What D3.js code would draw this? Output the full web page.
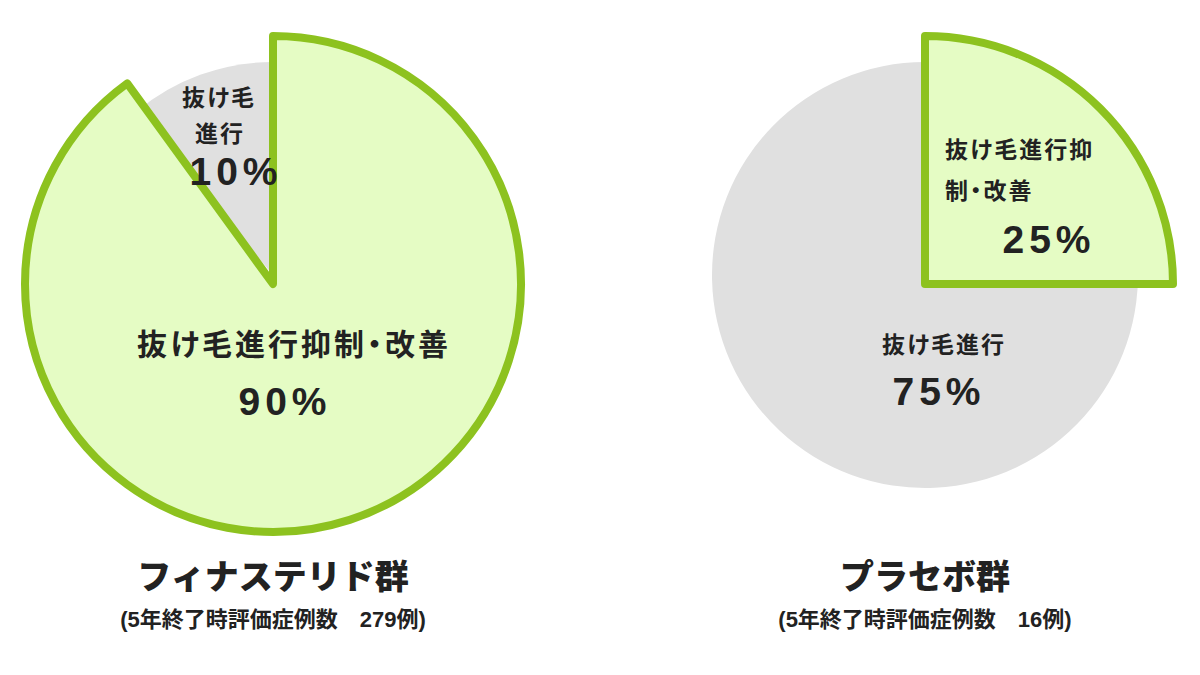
<!DOCTYPE html>
<html>
<head>
<meta charset="utf-8">
<script src="https://cdn.jsdelivr.net/npm/d3@7"></script>
<style>
    body { margin: 0; background: #fff; }
    text { font-family: "Liberation Sans", "Noto Sans CJK JP", sans-serif; font-weight: 700; fill: #222; }
    .title { font-family: "Noto Sans CJK JP", sans-serif; font-weight: 900; font-size: 34px; }
    .sub { font-size: 22px; }
    .lbl { font-size: 23px; letter-spacing: 2px; font-feature-settings: "palt"; }
    .lblBig { font-size: 30px; letter-spacing: 3px; font-feature-settings: "palt"; }
    .pct { font-size: 39px; letter-spacing: 5px; }
</style>
</head>
<body>
<div id="chart"></div>
<script>
// data
const groups = ["フィナステリド群", "プラセボ群"];
const subtitles = ["(5年終了時評価症例数　279例)", "(5年終了時評価症例数　16例)"];
const categories = ["抜け毛進行抑制・改善", "抜け毛進行"];
const improved = [90, 25];
const progressed = [10, 75];

const width = 1200;
const height = 675;

const svg = d3.select("#chart")
    .append("svg")
    .attr("width", width)
    .attr("height", height);

// pie centres
const xScale = d3.scalePoint()
    .domain(groups)
    .range([273, 925]);
const cy = 284;

const colorFill = d3.scaleOrdinal().domain(categories).range(["#e5fcc4", "#e0e0e0"]);

const pie = d3.pie().sort(null).value(d => d.value);
const greenArc = d3.arc().innerRadius(0).outerRadius(248);
const greyArc = d3.arc().innerRadius(0).outerRadius(213);
const greyShift = -9;
const overlap = 4 * Math.PI / 180;

// label layout per group (offsets from centre)
const labelLayout = [
    [
        { text: "抜け毛進行抑制・改善", cls: "lblBig", anchor: "middle", dx: 21, dy: 71 },
        { text: improved[0] + "%", cls: "pct", anchor: "middle", dx: 12, dy: 131 },
        { text: "抜け毛", cls: "lbl", anchor: "middle", dx: -54, dy: -178 },
        { text: "進行", cls: "lbl", anchor: "middle", dx: -53, dy: -142 },
        { text: progressed[0] + "%", cls: "pct", anchor: "middle", dx: -37, dy: -99 }
    ],
    [
        { text: "抜け毛進行抑", cls: "lbl", anchor: "start", dx: 20, dy: -126 },
        { text: "制・改善", cls: "lbl", anchor: "start", dx: 20, dy: -85 },
        { text: improved[1] + "%", cls: "pct", anchor: "middle", dx: 124, dy: -31 },
        { text: "抜け毛進行", cls: "lbl", anchor: "middle", dx: 19, dy: 69 },
        { text: progressed[1] + "%", cls: "pct", anchor: "middle", dx: 14, dy: 121 }
    ]
];

groups.forEach((g, i) => {
    const slices = pie([
        { key: categories[0], value: improved[i] },
        { key: categories[1], value: progressed[i] }
    ]);

    const chart = svg.append("g")
        .attr("transform", `translate(${xScale(g)},${cy})`);

    // grey slice (the rest), drawn first and a bit larger in angle so it tucks under the green one
    const rest = slices[1];
    chart.append("path")
        .attr("transform", `translate(0,${greyShift})`)
        .attr("d", greyArc({ startAngle: rest.startAngle - overlap, endAngle: rest.endAngle }))
        .attr("fill", colorFill(rest.data.key));

    // highlighted slice
    const main = slices[0];
    chart.append("path")
        .attr("d", greenArc(main))
        .attr("fill", colorFill(main.data.key))
        .attr("stroke", "#8dc21f")
        .attr("stroke-width", 8)
        .attr("stroke-linejoin", "round");

    chart.selectAll(".label")
        .data(labelLayout[i])
        .enter()
        .append("text")
        .attr("class", d => "label " + d.cls)
        .attr("text-anchor", d => d.anchor)
        .attr("x", d => d.dx)
        .attr("y", d => d.dy)
        .text(d => d.text);
});

// group titles
svg.selectAll(".title")
    .data(groups)
    .enter()
    .append("text")
    .attr("class", "title")
    .attr("text-anchor", "middle")
    .attr("x", d => xScale(d))
    .attr("y", 589)
    .text(d => d);

svg.selectAll(".sub")
    .data(subtitles)
    .enter()
    .append("text")
    .attr("class", "sub")
    .attr("text-anchor", "middle")
    .attr("x", (d, i) => xScale(groups[i]))
    .attr("y", 627)
    .text(d => d);
</script>
</body>
</html>
